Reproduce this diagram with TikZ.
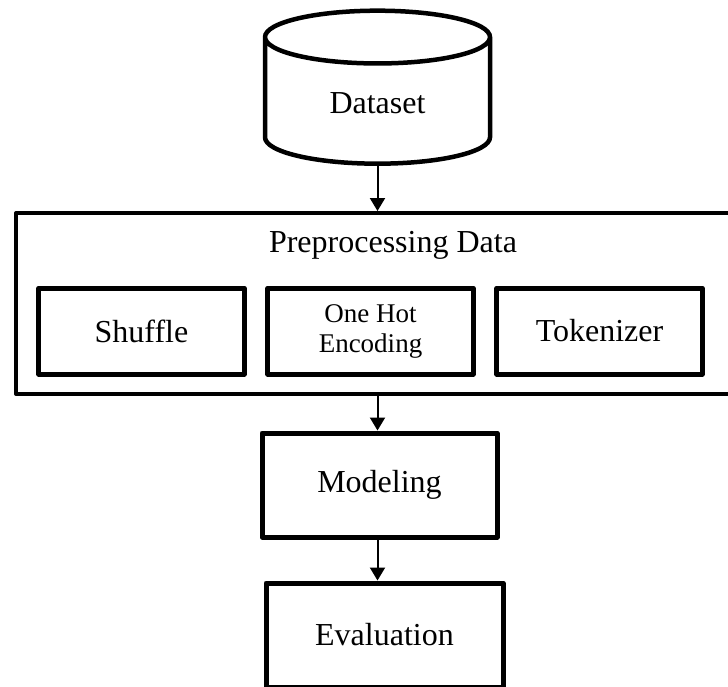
\documentclass[tikz,border=0pt]{standalone}
\usepackage{fontspec}
\setmainfont{Liberation Serif}
\usetikzlibrary{positioning,shapes.geometric,arrows.meta}

\begin{document}
\begin{tikzpicture}[x=1pt, y=-1pt,
    every node/.style={inner sep=0pt, text centered, font=\fontsize{32}{36}\selectfont},
    store/.style={draw, line width=4.5pt, cylinder, shape border rotate=90, aspect=0.55, minimum width=225pt, minimum height=153pt},
    stage/.style={draw, line width=5pt, line join=round, minimum width=235pt, minimum height=104pt},
    field/.style={draw, line width=5pt, line join=round, minimum width=205pt, minimum height=86pt},
    flow/.style={line width=2pt, -{Triangle[width=15pt,length=13pt]}}]
\useasboundingbox (0,0) rectangle (728,686);
\clip (0,0) rectangle (728,686);

\node [store, text height=28pt, text depth=5pt] (dataset) at (377.5,101.5) {Dataset};

\node [draw, line width=4pt, line join=round, minimum width=746pt, minimum height=181pt, anchor=north west] (prep) at (14,211) {};
\node (title) at (393,245) {Preprocessing Data};
\matrix (m) [ampersand replacement=\&, column sep=19pt] at (370.5,331)
{
\node [field] (shuffle) {Shuffle}; \&
\node [field, align=center, font=\fontsize{27}{30}\selectfont] (onehot) {One Hot\\Encoding}; \&
\node [field] (token) {Tokenizer}; \\
};

\node [stage] (model) at (379.5,485) {Modeling};
\node [stage, minimum width=237pt] (eval) at (384.5,635) {Evaluation};

\draw [flow] (dataset.south) -- (dataset.south |- prep.north);
\draw [flow] (prep.south -| dataset.south) -- (model.north -| dataset.south);
\draw [flow] (model.south -| dataset.south) -- (eval.north -| dataset.south);

\end{tikzpicture}
\end{document}
